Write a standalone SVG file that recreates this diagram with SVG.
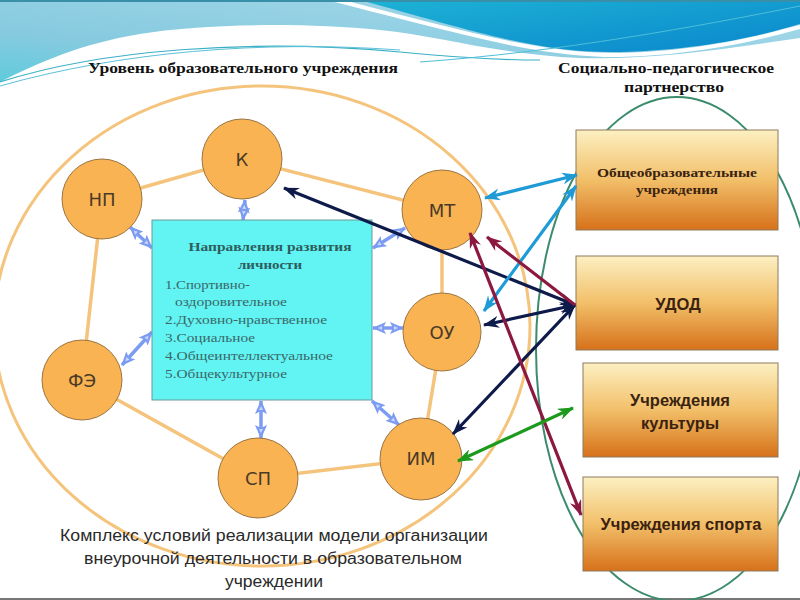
<svg xmlns="http://www.w3.org/2000/svg" width="800" height="600" viewBox="0 0 800 600">
<defs>
  <linearGradient id="skyL" x1="0" y1="1" x2="1" y2="0">
    <stop offset="0" stop-color="#5FCBDC"/>
    <stop offset="0.3" stop-color="#86CADF"/>
    <stop offset="1" stop-color="#A8DAEA"/>
  </linearGradient>
  <linearGradient id="skyD" x1="0" y1="0" x2="1" y2="1">
    <stop offset="0" stop-color="#1DB3D5"/>
    <stop offset="1" stop-color="#0A86CC"/>
  </linearGradient>
  <linearGradient id="boxG" x1="0" y1="0" x2="0" y2="1">
    <stop offset="0" stop-color="#FCF0C2"/>
    <stop offset="0.5" stop-color="#F2BF69"/>
    <stop offset="1" stop-color="#D6711A"/>
  </linearGradient>
  <marker id="mNavy" viewBox="0 0 16 12" refX="15" refY="6" markerWidth="16" markerHeight="12" markerUnits="userSpaceOnUse" orient="auto-start-reverse">
    <path d="M0,0 L16,6 L0,12 L5,6 Z" fill="#0E1A4A"/>
  </marker>
  <marker id="mBlue" viewBox="0 0 16 12" refX="15" refY="6" markerWidth="16" markerHeight="12" markerUnits="userSpaceOnUse" orient="auto-start-reverse">
    <path d="M0,0 L16,6 L0,12 L5,6 Z" fill="#1E9BD7"/>
  </marker>
  <marker id="mRed" viewBox="0 0 16 12" refX="15" refY="6" markerWidth="16" markerHeight="12" markerUnits="userSpaceOnUse" orient="auto-start-reverse">
    <path d="M0,0 L16,6 L0,12 L5,6 Z" fill="#8C1840"/>
  </marker>
  <marker id="mGreen" viewBox="0 0 16 12" refX="15" refY="6" markerWidth="16" markerHeight="12" markerUnits="userSpaceOnUse" orient="auto-start-reverse">
    <path d="M0,0 L16,6 L0,12 L5,6 Z" fill="#1C9A1C"/>
  </marker>
  <marker id="mPeri" viewBox="0 0 14 12" refX="13" refY="6" markerWidth="14" markerHeight="12" markerUnits="userSpaceOnUse" orient="auto-start-reverse">
    <path d="M0,0 L14,6 L0,12 L3,6 Z" fill="#7B9CF2"/>
    <path d="M4,4 L8,6 L4,8 Z" fill="#C9D6FA"/>
  </marker>
</defs>
<style>
  .circ { fill: #F9B352; stroke: #9A7440; stroke-width: 1; }
  .clab { font-family: "DejaVu Sans", "Noto Sans", sans-serif; font-size: 18px; fill: #4A3A28; text-anchor: middle; }
  .ring { fill: none; stroke: #F5C47C; stroke-width: 3; }
  .edge { stroke: #F5C47C; stroke-width: 3.5; fill: none; }
  .peri { stroke: #7B9CF2; stroke-width: 3.5; marker-start: url(#mPeri); marker-end: url(#mPeri); }
  .pbox { fill: url(#boxG); stroke: #8E7B5E; stroke-width: 1; }
  .title { font-family: "Liberation Serif", serif; font-weight: bold; font-size: 15px; fill: #111; text-anchor: middle; }
  .btitle { font-family: "Liberation Serif", serif; font-weight: bold; font-size: 12.5px; fill: #2C5E5E; text-anchor: middle; }
  .blist { font-family: "Liberation Serif", serif; font-size: 12.5px; fill: #3A6868; }
  .ptxt { font-family: "Liberation Sans", Arial, sans-serif; font-weight: bold; font-size: 16.5px; fill: #3A2210; text-anchor: middle; }
  .pser { font-family: "Liberation Serif", serif; font-weight: bold; font-size: 12px; fill: #3A2210; text-anchor: middle; }
  .foot { font-family: "Liberation Sans", Arial, sans-serif; font-size: 16px; fill: #2A2A2A; text-anchor: middle; }
  .big { stroke-width: 3.2; fill: none; }
</style>

<!-- background -->
<rect x="0" y="0" width="800" height="600" fill="#FFFFFF"/>
<g id="decor">
  <path d="M0,0 H800 V38 C720,50 650,60 580,58 C500,55 440,36 380,30 C300,22 200,24 140,34 C80,44 40,62 0,82 Z" fill="url(#skyL)"/>
  <path d="M360,0 H800 V24 C760,36 700,50 620,52 C540,54 470,30 360,0 Z" fill="url(#skyD)"/>
  <path d="M335,0 C460,32 540,56 620,55 C700,53 760,38 800,27" fill="none" stroke="#FFFFFF" stroke-width="4"/>
  <path d="M0,82 C100,50 250,38 400,52 C450,57 500,60 540,60" fill="none" stroke="#3AAFC4" stroke-width="1.2"/>
  <path d="M0,86 C120,52 260,40 400,50" fill="none" stroke="#5BC0D8" stroke-width="1"/>
  <path d="M420,62 C560,52 700,26 800,6" fill="none" stroke="#4DBFD8" stroke-width="1"/>
  <line x1="0" y1="1" x2="800" y2="1" stroke="#3A8FA8" stroke-width="2"/>
  <line x1="0" y1="599" x2="800" y2="599" stroke="#777" stroke-width="2"/>
</g>

<!-- titles -->
<text class="title" x="243" y="73" textLength="310" lengthAdjust="spacingAndGlyphs">Уровень образовательного учреждения</text>
<text class="title" x="666" y="73" textLength="216" lengthAdjust="spacingAndGlyphs">Социально-педагогическое</text>
<text class="title" x="674" y="92" textLength="100" lengthAdjust="spacingAndGlyphs">партнерство</text>

<!-- big ellipses -->
<ellipse class="ring" cx="262" cy="326" rx="268" ry="240"/>
<ellipse cx="677" cy="349" rx="141" ry="252" fill="none" stroke="#3C8C6C" stroke-width="2"/>

<!-- connectors -->
<g id="connectors">
  <polyline class="edge" points="102,199 242,159 442,210 442,332 421,459 258,478 82,380 102,199"/>
  <line class="peri" x1="245" y1="200" x2="243" y2="220"/>
  <line class="peri" x1="130" y1="227" x2="152" y2="248"/>
  <line class="peri" x1="405" y1="228" x2="373" y2="248"/>
  <line class="peri" x1="403" y1="328" x2="373" y2="328"/>
  <line class="peri" x1="122" y1="365" x2="152" y2="332"/>
  <line class="peri" x1="261" y1="401" x2="261" y2="438"/>
  <line class="peri" x1="372" y1="401" x2="399" y2="425"/>
</g>

<!-- orange nodes -->
<g id="n-K"><circle class="circ" cx="242" cy="159" r="40"/><text class="clab" x="242" y="166">К</text></g>
<g id="n-NP"><circle class="circ" cx="102" cy="199" r="40"/><text class="clab" x="102" y="206">НП</text></g>
<g id="n-MT"><circle class="circ" cx="442" cy="210" r="40"/><text class="clab" x="442" y="217">МТ</text></g>
<g id="n-OU"><circle class="circ" cx="442" cy="332" r="39"/><text class="clab" x="442" y="339">ОУ</text></g>
<g id="n-FE"><circle class="circ" cx="82" cy="380" r="40"/><text class="clab" x="82" y="387">ФЭ</text></g>
<g id="n-SP"><circle class="circ" cx="258" cy="478" r="40"/><text class="clab" x="258" y="485">СП</text></g>
<g id="n-IM"><circle class="circ" cx="421" cy="459" r="41"/><text class="clab" x="421" y="465">ИМ</text></g>

<!-- central box -->
<g id="n-center">
  <rect x="152" y="220" width="220" height="180" fill="#62F3F3" stroke="#6A9A9A" stroke-width="1"/>
  <text class="btitle" x="270" y="251" textLength="163" lengthAdjust="spacingAndGlyphs">Направления развития</text>
  <text class="btitle" x="270" y="269" textLength="64" lengthAdjust="spacingAndGlyphs">личности</text>
  <text class="blist" x="165" y="289" textLength="85" lengthAdjust="spacingAndGlyphs">1.Спортивно-</text>
  <text class="blist" x="175" y="306" textLength="112" lengthAdjust="spacingAndGlyphs">оздоровительное</text>
  <text class="blist" x="165" y="324" textLength="162" lengthAdjust="spacingAndGlyphs">2.Духовно-нравственное</text>
  <text class="blist" x="165" y="342" textLength="90" lengthAdjust="spacingAndGlyphs">3.Социальное</text>
  <text class="blist" x="165" y="360" textLength="168" lengthAdjust="spacingAndGlyphs">4.Общеинтеллектуальное</text>
  <text class="blist" x="165" y="378" textLength="122" lengthAdjust="spacingAndGlyphs">5.Общекультурное</text>
</g>

<!-- partner boxes -->
<g id="n-obsh">
  <rect class="pbox" x="576" y="130" width="202" height="100"/>
  <text class="pser" x="677" y="177" textLength="160" lengthAdjust="spacingAndGlyphs">Общеобразовательные</text>
  <text class="pser" x="677" y="194" textLength="82" lengthAdjust="spacingAndGlyphs">учреждения</text>
</g>
<g id="n-udod">
  <rect class="pbox" x="576" y="256" width="202" height="94"/>
  <text class="ptxt" x="678" y="310">УДОД</text>
</g>
<g id="n-kult">
  <rect class="pbox" x="583" y="363" width="195" height="94"/>
  <text class="ptxt" x="680" y="406">Учреждения</text>
  <text class="ptxt" x="680" y="429">культуры</text>
</g>
<g id="n-sport">
  <rect class="pbox" x="583" y="477" width="195" height="94"/>
  <text class="ptxt" x="681" y="530">Учреждения спорта</text>
</g>

<!-- partnership arrows -->
<g id="arrows">
  <line class="big" x1="284" y1="188" x2="575" y2="305" stroke="#0E1A4A" marker-start="url(#mNavy)" marker-end="url(#mNavy)"/>
  <line class="big" x1="484" y1="325" x2="575" y2="305" stroke="#0E1A4A" marker-start="url(#mNavy)" marker-end="url(#mNavy)"/>
  <line class="big" x1="453" y1="434" x2="575" y2="305" stroke="#0E1A4A" marker-start="url(#mNavy)" marker-end="url(#mNavy)"/>
  <line class="big" x1="485" y1="198" x2="577" y2="175" stroke="#1E9BD7" marker-start="url(#mBlue)" marker-end="url(#mBlue)"/>
  <line class="big" x1="484" y1="311" x2="576" y2="186" stroke="#1E9BD7" marker-start="url(#mBlue)" marker-end="url(#mBlue)"/>
  <line class="big" x1="470" y1="233" x2="581" y2="515" stroke="#8C1840" marker-start="url(#mRed)" marker-end="url(#mRed)"/>
  <line class="big" x1="575" y1="305" x2="487" y2="237" stroke="#8C1840" marker-end="url(#mRed)"/>
  <line class="big" x1="458" y1="461" x2="573" y2="408" stroke="#1C9A1C" marker-start="url(#mGreen)" marker-end="url(#mGreen)"/>
</g>

<!-- footer -->
<text class="foot" x="274" y="541" textLength="428" lengthAdjust="spacingAndGlyphs">Комплекс условий реализации модели организации</text>
<text class="foot" x="273" y="564" textLength="378" lengthAdjust="spacingAndGlyphs">внеурочной деятельности в образовательном</text>
<text class="foot" x="274" y="587" textLength="98" lengthAdjust="spacingAndGlyphs">учреждении</text>
</svg>
